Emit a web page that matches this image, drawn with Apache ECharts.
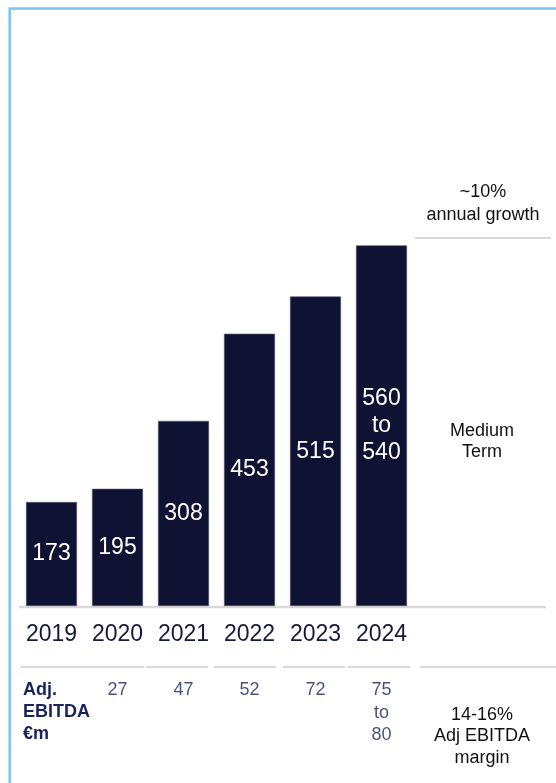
<!DOCTYPE html>
<html>
<head>
<meta charset="utf-8">
<style>
  html, body { margin: 0; padding: 0; background: #ffffff; }
  #chart { width: 556px; height: 783px; }
</style>
<script src="https://cdn.jsdelivr.net/npm/echarts@6/dist/echarts.min.js"></script>
</head>
<body>
<div id="chart"></div>
<script>
// Revenue by year (€m); the 2024 bar carries a guidance range as its label
const years = ['2019', '2020', '2021', '2022', '2023', '2024'];
const revenue = [173, 195, 308, 453, 515, 600];
const revenueGuidance2024 = [560, 540];

// Adjusted EBITDA (€m) shown in the table row under the bars
const ebitda = [null, 27, 47, 52, 72, 75];
const ebitdaGuidanceHigh2024 = 80;

const rowTitle = ['Adj.', 'EBITDA', '€m'];
const growthNote = ['~10%', 'annual growth'];
const horizonNote = ['Medium', 'Term'];
const marginNote = ['14-16%', 'Adj EBITDA', 'margin'];

const FONT = '"Liberation Sans", Arial, sans-serif';
const NAVY_BAR = '#0f1232';
const NAVY_TEXT = '#17235a';
const YEAR_TEXT = '#15193a';
const RULE = '#d9d9d9';
const FRAME = '#7cc4f2';

const chart = echarts.init(document.getElementById('chart'), null, { renderer: 'canvas' });

function textBlock(lines, x, firstLineCenter, lineHeight, align, extra) {
  return {
    type: 'text',
    x: x,
    y: firstLineCenter - lineHeight / 2,
    style: Object.assign({
      text: lines.join('\n'),
      font: '18px ' + FONT,
      fill: '#111111',
      align: align,
      verticalAlign: 'top',
      lineHeight: lineHeight
    }, extra || {})
  };
}

function rule(x1, x2, y, width) {
  return {
    type: 'line',
    shape: { x1: x1, y1: y, x2: x2, y2: y },
    style: { stroke: RULE, lineWidth: width || 2 }
  };
}

const tableRules = [[21, 144], [146, 208], [214, 276], [283, 345], [348, 410], [420, 556]];

const option = {
  animation: false,
  backgroundColor: '#ffffff',
  grid: [
    { left: 18.5, width: 396, top: 185.3, height: 420.7 },
    { left: 18.5, width: 396, top: 679, height: 80 }
  ],
  xAxis: [
    {
      type: 'category',
      gridIndex: 0,
      data: years,
      axisLine: { show: false },
      axisTick: { show: false },
      axisLabel: {
        interval: 0,
        margin: 17,
        fontSize: 23,
        fontFamily: FONT,
        color: YEAR_TEXT
      }
    },
    {
      type: 'category',
      gridIndex: 1,
      data: years,
      show: false
    }
  ],
  yAxis: [
    { type: 'value', gridIndex: 0, min: 0, max: 700, show: false },
    { type: 'value', gridIndex: 1, min: 0, max: 1, show: false }
  ],
  series: [
    {
      type: 'bar',
      xAxisIndex: 0,
      yAxisIndex: 0,
      data: revenue,
      barWidth: 51,
      itemStyle: { color: NAVY_BAR, borderColor: '#55586f', borderWidth: 0.6 },
      label: {
        show: true,
        position: 'inside',
        color: '#ffffff',
        fontSize: 23,
        fontFamily: FONT,
        lineHeight: 27,
        formatter: function (p) {
          if (p.dataIndex === years.length - 1) {
            return revenueGuidance2024[0] + '\nto\n' + revenueGuidance2024[1];
          }
          return String(p.value);
        }
      }
    },
    {
      type: 'scatter',
      xAxisIndex: 1,
      yAxisIndex: 1,
      symbolSize: 0,
      data: ebitda.map(function (v, i) { return v == null ? null : [i, 1]; }),
      label: {
        show: true,
        position: 'bottom',
        distance: 0,
        color: NAVY_TEXT,
        fontSize: 18,
        fontFamily: FONT,
        lineHeight: 22.5,
        formatter: function (p) {
          const v = ebitda[p.dataIndex];
          if (p.dataIndex === years.length - 1) {
            return v + '\nto\n' + ebitdaGuidanceHigh2024;
          }
          return String(v);
        }
      }
    }
  ],
  graphic: [
    {
      type: 'polyline',
      shape: { points: [[9.7, 783], [9.7, 8.5], [556, 8.5]] },
      style: { stroke: FRAME, lineWidth: 2.5, fill: null }
    },
    rule(19, 546, 607, 2.5),
    rule(415, 551, 238, 2),
    ...tableRules.map(function (r) { return rule(r[0], r[1], 667, 2); }),
    textBlock(growthNote, 483, 192, 23, 'center'),
    textBlock(horizonNote, 482, 431, 21, 'center'),
    textBlock(marginNote, 482, 715, 21.5, 'center'),
    textBlock(rowTitle, 23, 690, 22, 'left', { font: 'bold 18px ' + FONT, fill: NAVY_TEXT })
  ]
};

chart.setOption(option);
</script>
</body>
</html>
